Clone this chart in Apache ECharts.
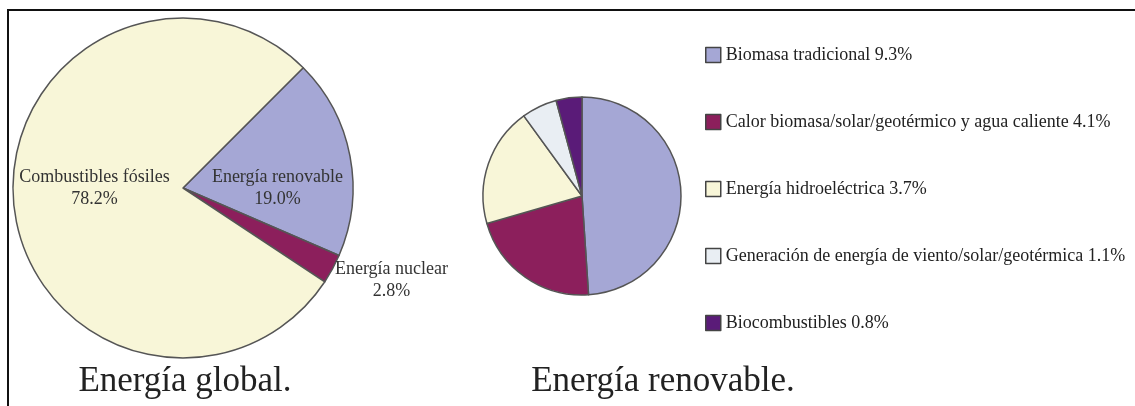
<!DOCTYPE html>
<html>
<head>
<meta charset="utf-8">
<script src="https://cdn.jsdelivr.net/npm/echarts@6/dist/echarts.min.js"></script>
<style>html,body{margin:0;padding:0;background:#fff;}#c{width:1135px;height:406px;}</style>
</head>
<body>
<div id="c"></div>
<script>
// Global energy pie (values in %)
var globalNames = ['Energía renovable', 'Energía nuclear', 'Combustibles fósiles'];
var globalValues = [19.0, 2.8, 78.2];
var globalColors = ['#a5a7d5', '#8c1f5c', '#f8f6d8'];

// Renewable breakdown pie (values in % of global)
var renewNames = ['Biomasa tradicional', 'Calor biomasa/solar/geotérmico y agua caliente', 'Energía hidroeléctrica', 'Generación de energía de viento/solar/geotérmica', 'Biocombustibles'];
var renewValues = [9.3, 4.1, 3.7, 1.1, 0.8];
var renewColors = ['#a5a7d5', '#8c1f5c', '#f8f6d8', '#e9eef3', '#5a1b78'];

var titles = ['Energía global.', 'Energía renovable.'];

var FONT = '"Liberation Serif", "DejaVu Serif", serif';

var chart = echarts.init(document.getElementById('c'), null, {renderer: 'canvas'});

function fmtValue(v) { return v.toFixed(1) + '%'; }

var globalData = globalNames.map(function (n, i) {
  var d = {name: n, value: globalValues[i], itemStyle: {color: globalColors[i]}};
  if (i === 1) {
    d.label = {
      position: 'outside',
      formatter: '{a|' + n + '\n' + fmtValue(globalValues[i]) + '}',
      rich: {a: {width: 116, align: 'center', fontSize: 18, lineHeight: 22, fontFamily: FONT, color: '#333'}}
    };
    d.labelLine = {show: false, length: 0, length2: 0};
  }
  return d;
});

var renewData = renewNames.map(function (n, i) {
  return {name: n, value: renewValues[i], itemStyle: {color: renewColors[i]}};
});

var option = {
  backgroundColor: '#ffffff',
  animation: false,
  title: [
    {text: titles[0], left: 180, top: 359, textAlign: 'center',
     textStyle: {fontFamily: FONT, fontSize: 35, fontWeight: 'normal', color: '#222'}},
    {text: titles[1], left: 658, top: 359, textAlign: 'center',
     textStyle: {fontFamily: FONT, fontSize: 35, fontWeight: 'normal', color: '#222'}}
  ],
  legend: {
    data: renewNames,
    orient: 'vertical',
    left: 705,
    top: 45,
    padding: 0,
    itemWidth: 15,
    itemHeight: 15,
    itemGap: 47,
    icon: 'rect',
    selectedMode: false,
    itemStyle: {borderColor: '#444', borderWidth: 1.5},
    textStyle: {fontFamily: FONT, fontSize: 18, color: '#222', lineHeight: 20},
    formatter: function (name) {
      var i = renewNames.indexOf(name);
      return name + ' ' + fmtValue(renewValues[i]);
    }
  },
  series: [
    {
      type: 'pie',
      center: [183, 188],
      radius: 170,
      startAngle: 45,
      clockwise: true,
      avoidLabelOverlap: false,
      itemStyle: {borderColor: '#555', borderWidth: 1.5},
      label: {
        show: true,
        position: 'inside',
        fontFamily: FONT,
        fontSize: 18,
        lineHeight: 22,
        color: '#333',
        formatter: function (p) { return p.name + '\n' + fmtValue(p.value); }
      },
      labelLayout: function (p) {
        if (p.dataIndex === 0) return {dx: 8, dy: 17};
        if (p.dataIndex === 1) return {dx: -4, dy: 11};
        return {dx: -1, dy: -9};
      },
      emphasis: {disabled: true},
      data: globalData
    },
    {
      type: 'pie',
      center: [582, 196],
      radius: 99,
      startAngle: 90,
      clockwise: true,
      label: {show: false},
      labelLine: {show: false},
      itemStyle: {borderColor: '#555', borderWidth: 1.5},
      emphasis: {disabled: true},
      data: renewData
    }
  ],
  graphic: [
    {type: 'polyline', shape: {points: [[8, 406], [8, 10], [1135, 10]]},
     style: {stroke: '#111', lineWidth: 2, fill: null}}
  ]
};
chart.setOption(option);
</script>
</body>
</html>
